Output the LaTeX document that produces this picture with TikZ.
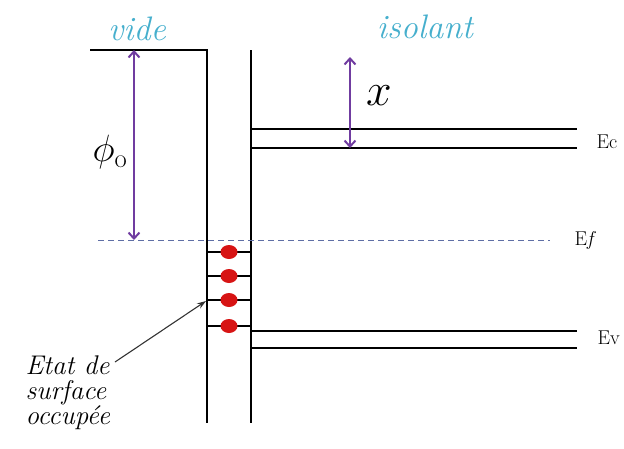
\RequirePackage{fix-cm}
\documentclass[tikz,border=0pt]{standalone}
\usepackage{tikz}
\usetikzlibrary{shapes.geometric, arrows.meta, positioning, calc}

\definecolor{videcol}{RGB}{70,175,205}
\definecolor{arrcol}{RGB}{112,60,160}
\definecolor{efcol}{RGB}{95,110,165}
\definecolor{dotcol}{RGB}{215,20,20}

\begin{document}
\begin{tikzpicture}[
        x=1pt, y=-1pt,
        band/.style={line width=2.6pt, color=black},
        fermi/.style={line width=1pt, color=efcol, dash pattern=on 6pt off 4pt},
        gap/.style={{Straight Barb[length=6pt,width=11pt]}-{Straight Barb[length=6pt,width=11pt]}, line width=2pt, color=arrcol},
        region/.style={font=\fontsize{34}{38}\selectfont\itshape, color=videcol},
        level/.style={font=\fontsize{20}{22}\selectfont, anchor=west},
        state/.style={ellipse, fill=dotcol, inner sep=0pt, minimum width=17pt, minimum height=14pt},
        pointer/.style={-{Stealth[length=9pt,width=6pt]}, line width=1.1pt, color=black!80}
    ]
    \useasboundingbox (0,0) rectangle (624,448);

    % Coordinates
    \coordinate (vacL) at (90,50);
    \coordinate (vacR) at (207,50);
    \coordinate (wallL) at (207,423);
    \coordinate (insT) at (251,50);
    \coordinate (insB) at (251,423);

    % Bands
    \draw[band] (vacL) -- (vacR) -- (wallL);
    \draw[band] (insT) -- (insB);
    \draw[band] (251,129) -- (577,129);
    \draw[band] (251,148) -- (577,148);
    \draw[band] (251,331) -- (577,331);
    \draw[band] (251,348) -- (577,348);
    \draw[fermi] (98,240) -- (550,240);

    % Surface states
    \foreach \y [count=\i] in {252,276,300,326} {
        \draw[band] (207,\y) -- (251,\y);
        \node[state] (s\i) at (229,\y) {};
    }

    % Labels
    \node[region] (vide) at (137,29) {vide};
    \node[region] (isolant) at (425,27) {isolant};
    \node[level] (ec) at (593,142) {Ec};
    \node[level] (ef) at (571,240) {E\textit{f}};
    \node[level] (ev) at (594,338) {Ev};
    \node[font=\fontsize{38}{40}\selectfont] (phi) at (110,152) {$\phi_{\mathrm{o}}$};
    \node[font=\fontsize{46}{48}\selectfont] (chi) at (379,96) {$x$};
    \node[font=\fontsize{27}{25}\selectfont\itshape, align=left, anchor=north west] (etat) at (22,352) {Etat de\\surface\\occup\'ee};

    % Arrows
    \coordinate (phiT) at (134,50);
    \coordinate (phiB) at (134,240);
    \coordinate (chiT) at (350,57);
    \coordinate (chiB) at (350,148);
    \draw[gap] (phiT) -- (phiB);
    \draw[gap] (chiT) -- (chiB);
    \draw[pointer] (115,362) -- (206,301);

\end{tikzpicture}
\end{document}
